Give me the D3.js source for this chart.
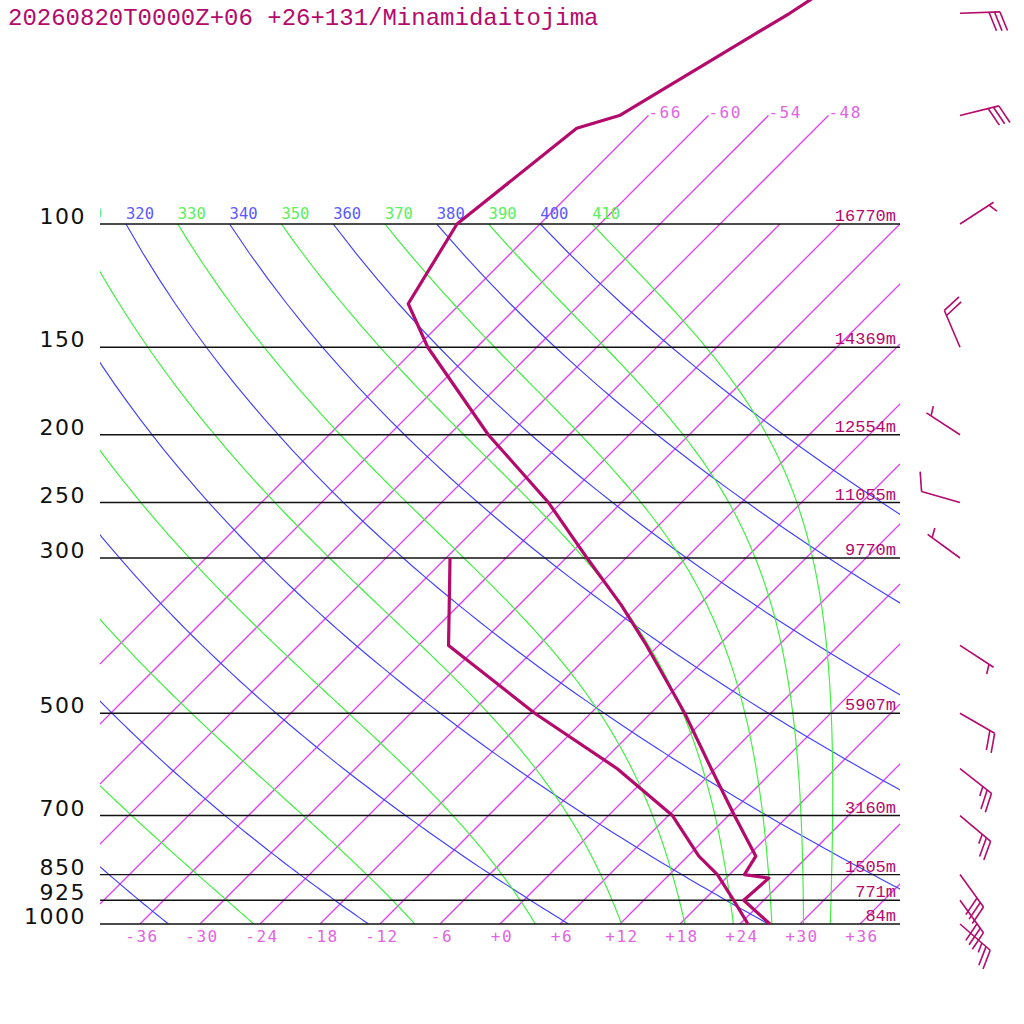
<!DOCTYPE html>
<html>
<head>
<meta charset="utf-8">
<script src="https://cdn.jsdelivr.net/npm/d3@7/dist/d3.min.js"></script>
<style>
  body { margin: 0; background: #fff; }
  svg { display: block; }
</style>
</head>
<body>
<script>
const title = "20260820T0000Z+06 +26+131/Minamidaitojima";

// isobars and their geopotential heights
const isobars = [100, 150, 200, 250, 300, 500, 700, 850, 925, 1000];
const heights = ["16770m", "14369m", "12554m", "11055m", "9770m", "5907m", "3160m", "1505m", "771m", "84m"];

// background lines
const isotherms = [-66, -60, -54, -48, -42, -36, -30, -24, -18, -12, -6, 0, 6, 12, 18, 24, 30, 36];
const topIsotherms = [-66, -60, -54, -48];
const tempTicks = [-36, -30, -24, -18, -12, -6, 0, 6, 12, 18, 24, 30, 36];
const dryAdiabats = [240, 260, 280, 300, 320, 340, 360, 380, 400];
const moistAdiabats = [250, 270, 290, 310, 330, 350, 370, 390, 410];

// temperature profile
const tempP = [1000, 925, 860, 850, 800, 700, 600, 500, 450, 400, 350, 300, 250, 200, 150, 130, 100, 73, 70, 50, 40];
const tempT = [27.0, 22.0, 22.3, 19.5, 18.8, 12.6, 5.6, -2.6, -7.6, -13.2, -19.8, -27.9, -37.3, -50.1, -64.9, -71.2, -74.3, -71.9, -68.9, -62.1, -58.5];

// dewpoint profile
const dewP = [1000, 925, 850, 800, 700, 600, 500, 400, 300];
const dewT = [24.8, 21.0, 16.8, 13.1, 6.4, -3.8, -17.6, -33.0, -41.6];

// winds (direction deg, speed: 10 = full barb, 5 = half)
const windP = [50, 70, 100, 150, 200, 250, 300, 400, 500, 600, 700, 850, 925, 1000];
const windDir = [88, 76, 57, 337, 303, 286, 306, 123, 120, 128, 130, 144, 144, 131];
const windSpd = [30, 30, 5, 20, 5, 10, 5, 5, 20, 25, 25, 30, 30, 25];

const KAPPA = 0.2857;
const PURPLE = "rgb(180,10,108)";

const svg = d3.select("body").append("svg").attr("width", 1024).attr("height", 1024);

const y = d3.scaleLog().domain([1000, 100]).range([924, 224]);
const x = d3.scaleLinear().domain([-40, 40]).range([100, 900]);
const skew = (t, p) => x(t) + (y(1000) - y(p));

const defs = svg.append("defs");
defs.append("clipPath").attr("id", "plotclip")
  .append("rect").attr("x", 100).attr("y", 224).attr("width", 800).attr("height", 700);
defs.append("clipPath").attr("id", "labclip")
  .append("rect").attr("x", 100).attr("y", 190).attr("width", 800).attr("height", 34);

const line = d3.line().x(d => skew(d[1], d[0])).y(d => y(d[0]));

// isotherms, clipped by hand to the plot's left/right edges
function isoEnds(t) {
  const pTop = topIsotherms.includes(t) ? 70 : 100;
  let x1 = skew(t, 1000), y1 = y(1000);
  let x2 = skew(t, pTop), y2 = y(pTop);
  if (x1 < 100) { y1 -= 100 - x1; x1 = 100; }
  if (x2 > 900) { y2 += x2 - 900; x2 = 900; }
  return {x1, y1, x2, y2};
}
const isoData = isotherms.map(isoEnds).filter(d => d.x1 < d.x2);
svg.append("g")
  .selectAll("line").data(isoData).enter().append("line")
  .attr("x1", d => d.x1).attr("y1", d => d.y1)
  .attr("x2", d => d.x2).attr("y2", d => d.y2)
  .attr("stroke", "rgb(222,64,238)").attr("stroke-width", 1.3);

svg.selectAll(".isoTop").data(topIsotherms).enter().append("text")
  .attr("class", "isoTop")
  .attr("x", t => skew(t, 70)).attr("y", y(70) + 2)
  .attr("font-family", "DejaVu Sans Mono").attr("font-size", 16).attr("letter-spacing", 1.5)
  .attr("fill", "rgb(226,100,226)")
  .text(t => t);

// dry adiabats
const dryPts = theta => d3.range(1000, 99, -10).map(p => [p, theta * Math.pow(p / 1000, KAPPA) - 273.15]);

// pseudo-adiabats integrated down from 100 hPa
function dTdp(p, T) {
  const tc = T - 273.15;
  const es = 6.112 * Math.exp(17.67 * tc / (tc + 243.5));
  const rs = 0.622 * es / (p - es);
  const Rd = 287.04, Cp = 1005.7, Lv = 2.501e6;
  return (1 / p) * (Rd * T + Lv * rs) / (Cp + Lv * Lv * rs * 0.622 / (Rd * T * T));
}
function moistPts(theta) {
  let p = 100, T = theta * Math.pow(0.1, KAPPA);
  const pts = [[p, T - 273.15]];
  const dp = 5;
  while (p < 1000) {
    const k1 = dTdp(p, T);
    const k2 = dTdp(p + dp / 2, T + k1 * dp / 2);
    T += k2 * dp; p += dp;
    pts.push([p, T - 273.15]);
  }
  return pts;
}

const adi = svg.append("g").attr("clip-path", "url(#plotclip)").attr("fill", "none");
adi.selectAll(".dry").data(dryAdiabats).enter().append("path")
  .attr("class", "dry")
  .attr("d", th => line(dryPts(th)))
  .attr("stroke", "rgb(64,64,255)").attr("stroke-width", 1.15);
adi.selectAll(".moist").data(moistAdiabats).enter().append("path")
  .attr("class", "moist")
  .attr("d", th => line(moistPts(th)))
  .attr("stroke", "rgb(60,240,60)").attr("stroke-width", 1.15);

// adiabat labels at 100 hPa (only those that reach the plot)
const topX = th => skew(th * Math.pow(0.1, KAPPA) - 273.15, 100);
const allAdi = dryAdiabats.map(v => ({v, c: "rgb(90,90,255)"}))
  .concat(moistAdiabats.map(v => ({v, c: "rgb(90,240,90)"})))
  .filter(d => topX(d.v) > 60);
const labs = svg.append("g").attr("clip-path", "url(#labclip)")
  .attr("font-family", "DejaVu Sans Mono").attr("font-size", 15.5);
labs.selectAll("text").data(allAdi).enter().append("text")
  .attr("x", d => topX(d.v))
  .attr("y", y(100) - 5)
  .attr("fill", d => d.c)
  .text(d => d.v);

// isobars
svg.selectAll(".isobar").data(isobars).enter().append("line")
  .attr("class", "isobar")
  .attr("x1", 100).attr("x2", 900)
  .attr("y1", p => y(p)).attr("y2", p => y(p))
  .attr("stroke", "#111").attr("stroke-width", 1.4);

svg.selectAll(".plab").data(isobars).enter().append("text")
  .attr("class", "plab")
  .attr("x", 86).attr("y", p => y(p))
  .attr("text-anchor", "end")
  .attr("font-family", "DejaVu Sans").attr("font-size", 22).attr("letter-spacing", 1.5)
  .attr("fill", "#111")
  .text(p => p);

svg.selectAll(".hlab").data(isobars).enter().append("text")
  .attr("class", "hlab")
  .attr("x", 896).attr("y", p => y(p) - 3)
  .attr("text-anchor", "end")
  .attr("font-family", "Liberation Mono").attr("font-size", 17)
  .attr("fill", PURPLE)
  .text((p, i) => heights[i]);

// temperature tick labels
svg.selectAll(".tlab").data(tempTicks).enter().append("text")
  .attr("class", "tlab")
  .attr("x", t => x(t) + 2).attr("y", 942)
  .attr("text-anchor", "middle")
  .attr("font-family", "DejaVu Sans Mono").attr("font-size", 16).attr("letter-spacing", 1.5)
  .attr("fill", "rgb(226,100,226)")
  .text(t => (t >= 0 ? "+" : "") + t);

// profiles
const prof = d3.line().x(d => skew(d[1], d[0])).y(d => y(d[0]));
svg.append("path")
  .attr("d", prof(tempP.map((p, i) => [p, tempT[i]])))
  .attr("fill", "none").attr("stroke", PURPLE).attr("stroke-width", 3.2)
  .attr("stroke-linejoin", "round");
svg.append("path")
  .attr("d", prof(dewP.map((p, i) => [p, dewT[i]])))
  .attr("fill", "none").attr("stroke", PURPLE).attr("stroke-width", 3.2)
  .attr("stroke-linejoin", "round");

// wind barbs
const barbs = svg.append("g").attr("stroke", PURPLE).attr("stroke-width", 1.6).attr("fill", "none");
windP.forEach((p, i) => {
  const bx = 960, by = y(p);
  const a = windDir[i] * Math.PI / 180;
  const ux = Math.sin(a), uy = -Math.cos(a);
  const L = 40;
  const tx = bx + ux * L, ty = by + uy * L;
  barbs.append("line").attr("x1", bx).attr("y1", by).attr("x2", tx).attr("y2", ty);
  const fa = Math.atan2(uy, ux) + 70 * Math.PI / 180;
  const fx = Math.cos(fa), fy = Math.sin(fa);
  let spd = windSpd[i];
  let k = spd < 10 ? 1 : 0;
  while (spd >= 5) {
    const len = spd >= 10 ? 20 : 10;
    const sx = tx - ux * 5.5 * k, sy = ty - uy * 5.5 * k;
    barbs.append("line").attr("x1", sx).attr("y1", sy)
      .attr("x2", sx + fx * len).attr("y2", sy + fy * len);
    spd -= spd >= 10 ? 10 : 5;
    k++;
  }
});

// title
svg.append("text")
  .attr("x", 8).attr("y", 25)
  .attr("font-family", "Liberation Mono").attr("font-size", 24)
  .attr("fill", PURPLE)
  .text(title);
</script>
</body>
</html>
